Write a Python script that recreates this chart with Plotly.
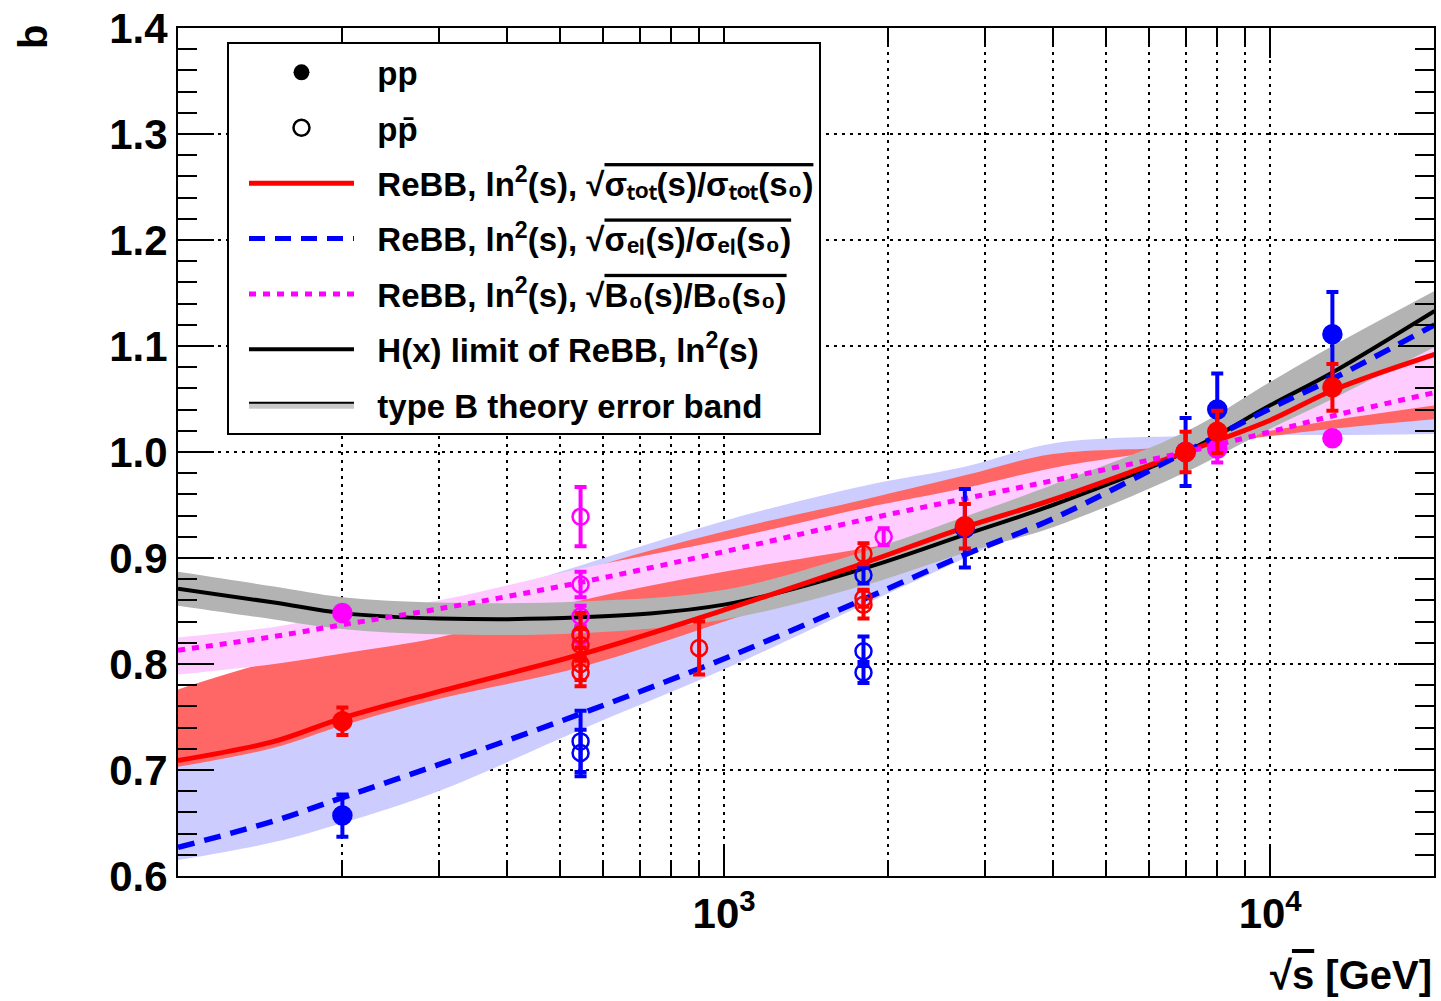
import plotly.graph_objects as go

# ---------------- data ----------------
E_GRID = [100, 150, 200, 300, 546, 1000, 1800, 2760, 4000, 7000, 10000, 13000, 20000]

# model curves
red_line   = [0.709, 0.727, 0.749, 0.774, 0.809, 0.851, 0.895, 0.929, 0.955, 1.000, 1.030, 1.058, 1.092]
blue_line  = [0.627, 0.652, 0.674, 0.705, 0.753, 0.805, 0.861, 0.903, 0.937, 1.000, 1.041, 1.069, 1.120]
pink_line  = [0.813, 0.826, 0.837, 0.852, 0.877, 0.906, 0.936, 0.956, 0.973, 1.000, 1.019, 1.034, 1.056]
black_line = [0.871, 0.858, 0.848, 0.843, 0.844, 0.856, 0.890, 0.922, 0.950, 1.000, 1.044, 1.075, 1.133]

# error bands (two edges each)
blue_a = [0.615, 0.632, 0.650, 0.680, 0.738, 0.795, 0.856, 0.900, 0.940, 1.000, 1.045, 1.080, 1.130]
blue_b = [0.740, 0.780, 0.810, 0.850, 0.893, 0.935, 0.968, 0.986, 1.008, 1.015, 1.016, 1.016, 1.017]
red_a  = [0.703, 0.721, 0.742, 0.767, 0.797, 0.840, 0.885, 0.920, 0.950, 0.998, 1.032, 1.060, 1.095]
red_b  = [0.776, 0.803, 0.815, 0.830, 0.887, 0.925, 0.955, 0.978, 0.998, 1.005, 1.015, 1.022, 1.031]
pink_a = [0.790, 0.800, 0.810, 0.825, 0.860, 0.887, 0.909, 0.925, 0.950, 0.995, 1.040, 1.070, 1.111]
pink_b = [0.825, 0.835, 0.847, 0.860, 0.890, 0.917, 0.947, 0.966, 0.985, 1.005, 1.020, 1.030, 1.044]
gray_lo = [0.855, 0.842, 0.833, 0.828, 0.829, 0.842, 0.874, 0.905, 0.929, 0.981, 1.022, 1.050, 1.099]
gray_hi = [0.887, 0.873, 0.863, 0.858, 0.859, 0.870, 0.906, 0.939, 0.969, 1.019, 1.066, 1.100, 1.152]

# pp data (filled)
pp_E_red   = [200, 2760, 7000, 8000, 13000]
pp_b_red   = [0.746, 0.930, 1.000, 1.019, 1.061]
pp_err_red = [0.013, 0.021, 0.019, 0.020, 0.022]

pp_E_blue   = [200, 2760, 7000, 8000, 13000]
pp_b_blue   = [0.657, 0.928, 1.000, 1.040, 1.111]
pp_err_blue = [0.020, 0.037, 0.032, 0.034, 0.040]

pp_E_mag   = [200, 7000, 8000, 13000]
pp_b_mag   = [0.848, 1.000, 1.003, 1.013]
pp_err_mag = [0.006, 0.006, 0.013, 0.004]

# p-pbar data (open)
pb_E_red   = [546, 546, 546, 546, 900, 1800, 1800, 1800]
pb_b_red   = [0.828, 0.818, 0.800, 0.792, 0.815, 0.904, 0.862, 0.856]
pb_err_red = [0.020, 0.015, 0.015, 0.013, 0.025, 0.010, 0.008, 0.013]

pb_E_blue   = [546, 546, 1800, 1800, 1800]
pb_b_blue   = [0.727, 0.716, 0.884, 0.812, 0.792]
pb_err_blue = [0.029, 0.022, 0.008, 0.014, 0.010]

pb_E_mag   = [546, 546, 546, 546, 1960]
pb_b_mag   = [0.939, 0.875, 0.845, 0.826, 0.920]
pb_err_mag = [0.028, 0.012, 0.010, 0.010, 0.008]

X_MAJOR = [1000, 10000]
X_MAJOR_TEXT = ["10<sup>3</sup>", "10<sup>4</sup>"]
X_MINOR = [200, 300, 400, 500, 600, 700, 800, 900,
           2000, 3000, 4000, 5000, 6000, 7000, 8000, 9000]

# ---------------- styles ----------------
RED, BLUE, MAG = "#ff0000", "#0000ff", "#ff00ff"
FONT = "Liberation Sans, Arial, Helvetica, sans-serif"

fig = go.Figure()


def band(lo, hi, color):
    fig.add_trace(go.Scatter(x=E_GRID, y=lo, mode="lines",
                             line=dict(width=0, shape="spline", color=color),
                             showlegend=False, hoverinfo="skip"))
    fig.add_trace(go.Scatter(x=E_GRID, y=hi, mode="lines",
                             line=dict(width=0, shape="spline", color=color),
                             fill="tonexty", fillcolor=color,
                             showlegend=False, hoverinfo="skip"))


band(blue_a, blue_b, "#ccccff")
band(red_a, red_b, "#ff6666")
band(pink_a, pink_b, "#ffccff")
band(gray_lo, gray_hi, "#b3b3b3")

fig.add_trace(go.Scatter(x=E_GRID, y=black_line, mode="lines",
                         line=dict(color="black", width=4, shape="spline"), showlegend=False))
fig.add_trace(go.Scatter(x=E_GRID, y=red_line, mode="lines",
                         line=dict(color=RED, width=5, shape="spline"), showlegend=False))
fig.add_trace(go.Scatter(x=E_GRID, y=blue_line, mode="lines",
                         line=dict(color=BLUE, width=5.5, shape="spline", dash="17px,10px"),
                         showlegend=False))
fig.add_trace(go.Scatter(x=E_GRID, y=pink_line, mode="lines",
                         line=dict(color=MAG, width=5, shape="spline", dash="7px,7px"),
                         showlegend=False))


def points(E, b, err, color, filled):
    fig.add_trace(go.Scatter(
        x=E, y=b, mode="markers",
        marker=dict(symbol="circle" if filled else "circle-open", size=18 if filled else 16,
                    color=color, line=dict(color=color, width=2.5)),
        error_y=dict(type="data", array=err, color=color, thickness=4, width=6),
        showlegend=False))


points(pb_E_blue, pb_b_blue, pb_err_blue, BLUE, False)
points(pp_E_blue, pp_b_blue, pp_err_blue, BLUE, True)
points(pb_E_mag, pb_b_mag, pb_err_mag, MAG, False)
points(pp_E_mag, pp_b_mag, pp_err_mag, MAG, True)
points(pb_E_red, pb_b_red, pb_err_red, RED, False)
points(pp_E_red, pp_b_red, pp_err_red, RED, True)

# ---------------- legend entries ----------------
OV = "<span style='text-decoration:overline'>"
SP = "\u00a0\u00a0"
legend_items = [
    dict(name=SP + "pp", mode="markers", marker=dict(symbol="circle", size=16, color="black")),
    dict(name=SP + "pp\u0304", mode="markers",
         marker=dict(symbol="circle-open", size=16, color="black", line=dict(width=2.5))),
    dict(name=SP + "ReBB, ln<sup>2</sup>(s), √" + OV + "σₜₒₜ(s)/σₜₒₜ(s₀)</span>",
         mode="lines", line=dict(color=RED, width=5)),
    dict(name=SP + "ReBB, ln<sup>2</sup>(s), √" + OV + "σₑₗ(s)/σₑₗ(s₀)</span>",
         mode="lines", line=dict(color=BLUE, width=5, dash="16px,10px")),
    dict(name=SP + "ReBB, ln<sup>2</sup>(s), √" + OV + "B₀(s)/B₀(s₀)</span>",
         mode="lines", line=dict(color=MAG, width=5, dash="7px,7px")),
    dict(name=SP + "H(x) limit of ReBB, ln<sup>2</sup>(s)", mode="lines",
         line=dict(color="black", width=4)),
    dict(name=SP + "type B theory error band", mode="lines", fill="toself", fillcolor="#c8c8c8",
         line=dict(color="black", width=2)),
]
for i, it in enumerate(legend_items):
    fig.add_trace(go.Scatter(x=[None], y=[None], legendgroup=f"g{i}", showlegend=True, **it))

# ---------------- layout ----------------
GRID = dict(showgrid=True, gridcolor="black", gridwidth=2, griddash="3px,5px")

fig.update_layout(
    width=1441, height=1001,
    margin=dict(l=178, r=5, t=24, b=125),
    paper_bgcolor="white", plot_bgcolor="white",
    font=dict(family=FONT, color="black", weight="bold"),
    showlegend=True,
    legend=dict(x=0.039, y=0.983, xanchor="left", yanchor="top",
                bgcolor="white", bordercolor="black", borderwidth=2,
                font=dict(size=33, family=FONT, color="black", weight="bold"),
                itemwidth=105, tracegroupgap=9.5, traceorder="grouped", indentation=15),
    xaxis=dict(type="log", range=[2, 4.3],
               tickmode="array", tickvals=X_MAJOR, ticktext=X_MAJOR_TEXT,
               ticks="inside", ticklen=30, tickwidth=2, tickcolor="black",
               tickfont=dict(size=42, family=FONT, weight="bold"),
               showline=True, linecolor="black", linewidth=2, mirror="allticks",
               zeroline=False,
               minor=dict(tickmode="array", tickvals=X_MINOR, ticks="inside", ticklen=16,
                          tickwidth=2, tickcolor="black", **GRID),
               **GRID),
    yaxis=dict(range=[0.6, 1.4], dtick=0.1, tick0=0.6, tickformat=".1f",
               ticks="inside", ticklen=36, tickwidth=2, tickcolor="black",
               tickfont=dict(size=42, family=FONT, weight="bold"),
               showline=True, linecolor="black", linewidth=2, mirror="allticks",
               zeroline=False,
               minor=dict(dtick=0.02, ticks="inside", ticklen=19, tickwidth=2,
                          tickcolor="black", showgrid=False),
               **GRID),
    annotations=[
        dict(text="b", xref="paper", yref="paper", x=-0.115, y=0.989,
             xanchor="center", yanchor="middle", textangle=-90, showarrow=False,
             font=dict(size=40, family=FONT, weight="bold")),
        dict(text="√" + OV + "s</span> [GeV]", xref="paper", yref="paper", x=1.0, y=-0.117,
             xanchor="right", yanchor="middle", showarrow=False,
             font=dict(size=40, family=FONT, weight="bold")),
    ],
)

fig.write_html("out.html")
